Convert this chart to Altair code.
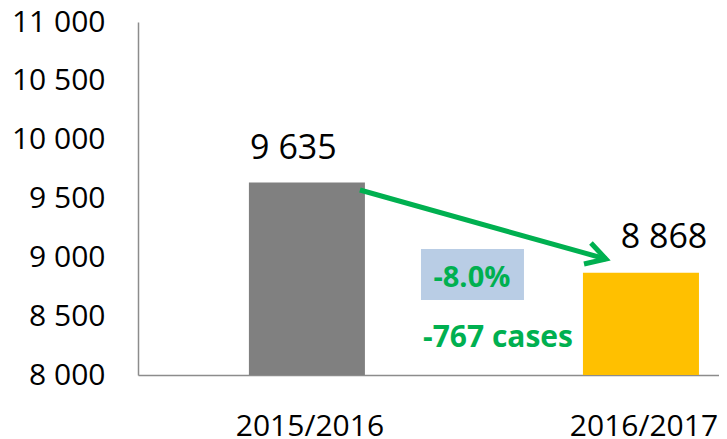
import altair as alt
import pandas as pd

# ---- data ----
seasons = ["2015/2016", "2016/2017"]
cases = [9635, 8868]
case_labels = ["9 635", "8 868"]
bar_colors = ["#808080", "#FFC000"]
y_ticks = [8000, 8500, 9000, 9500, 10000, 10500, 11000]

change_pct = "-8.0%"
change_cases = "-767 cases"

# arrow in data space: season, position inside the band (0..1), value
arrow_part = ["shaft", "shaft", "head", "head", "head"]
arrow_season = ["2015/2016", "2016/2017", "2016/2017", "2016/2017", "2016/2017"]
arrow_band = [0.957, 0.198, 0.069, 0.198, 0.009]
arrow_value = [9572, 8986, 9122, 8986, 8943]
arrow_order = [0, 1, 0, 1, 2]

# annotation anchors (season, position inside band, value)
box_anchor = ("2015/2016", 1.927, 8854)
pct_anchor = ("2015/2016", 1.922, 8748)
cases_anchor = ("2015/2016", 2.147, 8238)

GREEN = "#00B050"
FONT = "Open Sans"

bars_df = pd.DataFrame({"season": seasons, "value": cases, "label": case_labels})
arrow_df = pd.DataFrame({"part": arrow_part, "season": arrow_season,
                         "band": arrow_band, "value": arrow_value, "ord": arrow_order})
ann_df = pd.DataFrame({
    "kind": ["box", "pct", "cases"],
    "season": [box_anchor[0], pct_anchor[0], cases_anchor[0]],
    "band": [box_anchor[1], pct_anchor[1], cases_anchor[1]],
    "value": [box_anchor[2], pct_anchor[2], cases_anchor[2]],
    "text": ["", change_pct, change_cases],
})

x_enc = alt.X(
    "season:N", sort=seasons,
    scale=alt.Scale(domain=seasons, paddingInner=0.6527, paddingOuter=0.196, align=0.847),
    axis=alt.Axis(title=None, labelAngle=0, labelFontSize=30, labelFont=FONT,
                  labelColor="black", labelPadding=36, labelOffset=3, ticks=False, grid=False,
                  domainColor="#8c8c8c", domainWidth=1.5),
)
y_enc = alt.Y(
    "value:Q",
    scale=alt.Scale(domain=[8000, 11000], nice=False, zero=False),
    axis=alt.Axis(values=y_ticks, title=None,
                  labelExpr="replace(format(datum.value, ','), ',', ' ')",
                  labelFontSize=30, labelFont=FONT, labelColor="black",
                  labelPadding=33, ticks=False, grid=False,
                  domainColor="#8c8c8c", domainWidth=1.5),
)
xoff = alt.XOffset("band:Q", scale=alt.Scale(domain=[0, 1]))

bars = alt.Chart(bars_df).mark_bar(clip=True, width=alt.RelativeBandSize(1)).encode(
    x=x_enc, y=y_enc,
    color=alt.Color("season:N", scale=alt.Scale(domain=seasons, range=bar_colors), legend=None),
)

lab1 = alt.Chart(bars_df).transform_filter(alt.datum.season == seasons[0]).mark_text(
    dx=-13.5, dy=-24, baseline="alphabetic", fontSize=34, font=FONT, color="black"
).encode(x=x_enc, y=y_enc, text="label:N")

lab2 = alt.Chart(bars_df).transform_filter(alt.datum.season == seasons[1]).mark_text(
    dx=23, dy=-25, baseline="alphabetic", fontSize=34, font=FONT, color="black"
).encode(x=x_enc, y=y_enc, text="label:N")

arrow = alt.Chart(arrow_df).mark_line(
    strokeWidth=5, color=GREEN, strokeCap="butt", strokeJoin="miter"
).encode(x=x_enc, xOffset=xoff, y=y_enc, detail="part:N", order="ord:Q")

box = alt.Chart(ann_df).transform_filter(alt.datum.kind == "box").mark_point(
    shape="M-1,-0.495L1,-0.495L1,0.495L-1,0.495Z", size=103 * 103,
    filled=True, color="#B9CDE5", opacity=1, strokeWidth=0
).encode(x=x_enc, xOffset=xoff, y=y_enc)

pct = alt.Chart(ann_df).transform_filter(alt.datum.kind == "pct").mark_text(
    baseline="alphabetic", fontSize=29, font=FONT, fontWeight="bold", color=GREEN
).encode(x=x_enc, xOffset=xoff, y=y_enc, text="text:N")

cas = alt.Chart(ann_df).transform_filter(alt.datum.kind == "cases").mark_text(
    baseline="alphabetic", fontSize=30, font=FONT, fontWeight="bold", color=GREEN
).encode(x=x_enc, xOffset=xoff, y=y_enc, text="text:N")

chart = alt.layer(bars, lab1, lab2, box, pct, cas, arrow).resolve_scale(
    xOffset="independent"
).properties(
    width=581, height=353,
    autosize=alt.AutoSizeParams(type="none"),
    padding={"left": 130, "top": 14, "right": 0, "bottom": 70},
    background="white",
).configure_view(stroke=None)

chart.save("out.html", embed_options={"renderer": "svg", "actions": False})
